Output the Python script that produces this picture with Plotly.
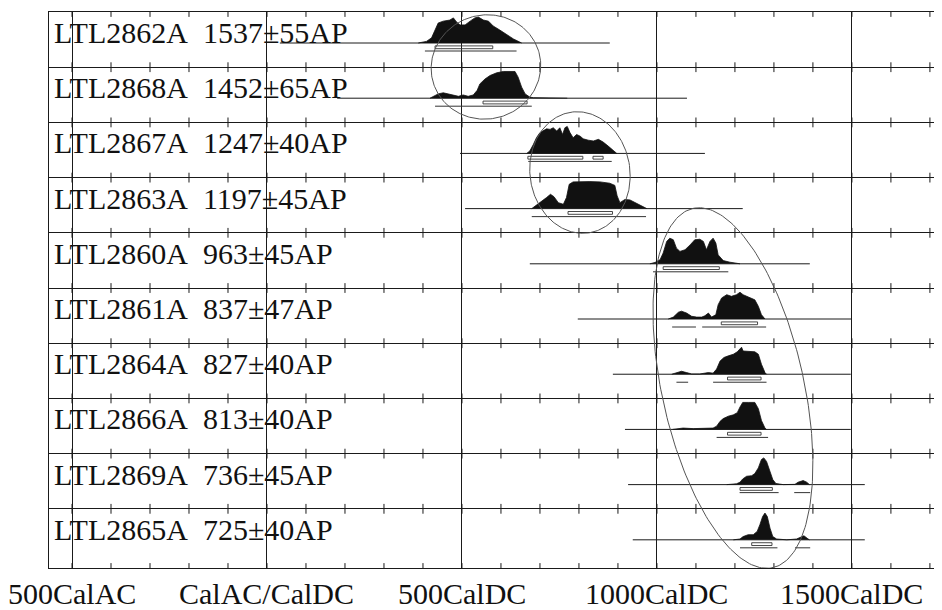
import numpy as np
import plotly.graph_objects as go

# ---------------- data ----------------
lab_ids = ["LTL2862A", "LTL2868A", "LTL2867A", "LTL2863A", "LTL2860A",
           "LTL2861A", "LTL2864A", "LTL2866A", "LTL2869A", "LTL2865A"]
lab_ages = ["1537±55AP", "1452±65AP", "1247±40AP", "1197±45AP", "963±45AP",
            "837±47AP", "827±40AP", "813±40AP", "736±45AP", "725±40AP"]

axis_tick_years = [-500, 0, 500, 1000, 1500]
axis_tick_text = ["500CalAC", "CalAC/CalDC", "500CalDC", "1000CalDC", "1500CalDC"]

# calibrated probability curves (calendar year, relative probability)
yr_2862 = [388, 409, 422, 431, 439, 452, 469, 478, 486, 495, 508, 521, 533, 542, 555, 568, 580, 597, 615, 632, 653]
p_2862 = [0, .06, .19, .48, .74, .81, .85, .93, .78, .67, .67, .81, .93, .96, .85, .81, .63, .48, .30, .15, 0]

yr_2868 = [418, 427, 439, 452, 465, 478, 491, 503, 516, 529, 539, 546, 559, 572, 589, 606, 623, 636, 644, 653, 662, 674, 683, 705, 740, 770]
p_2868 = [0, .07, .16, .20, .16, .12, .07, .12, .07, .12, .29, .53, .71, .84, .94, .99, 1.0, .99, .78, .41, .16, .04, .02, .02, .015, 0]

yr_2867 = [666, 674, 683, 691, 700, 709, 717, 726, 734, 743, 751, 758, 764, 770, 777, 785, 794, 803, 811, 824, 837, 850, 862, 875, 888, 897]
p_2867 = [0, .09, .33, .58, .77, .83, .91, .89, .95, .83, .95, .70, .95, 1.0, .77, .58, .70, .64, .54, .49, .46, .52, .42, .27, .09, 0]

yr_2863 = [679, 691, 704, 717, 727, 736, 747, 760, 768, 775, 785, 803, 828, 854, 879, 892, 898, 905, 918, 931, 944, 956, 974]
p_2863 = [0, .12, .25, .41, .53, .44, .22, .16, .41, .90, .99, 1.0, 1.0, .99, .94, .86, .47, .22, .34, .32, .22, .12, 0]

yr_2860 = [982, 995, 1008, 1016, 1025, 1033, 1042, 1050, 1059, 1072, 1085, 1097, 1110, 1119, 1127, 1136, 1144, 1151, 1157, 1170, 1187, 1204, 1213]
p_2860 = [0, .05, .15, .40, .83, .95, .89, .58, .46, .52, .70, .89, .91, .83, .52, .83, .95, .77, .33, .12, .06, .03, 0]

yr_2861 = [1029, 1042, 1055, 1063, 1076, 1089, 1102, 1115, 1123, 1132, 1140, 1151, 1157, 1166, 1179, 1191, 1204, 1213, 1221, 1238, 1251, 1260, 1268, 1277]
p_2861 = [0, .07, .25, .29, .22, .10, .07, .07, .12, .22, .07, .16, .53, .78, .90, .84, .90, .99, .90, .78, .71, .47, .16, 0]

yr_2864 = [1038, 1050, 1063, 1076, 1089, 1110, 1132, 1144, 1153, 1162, 1172, 1183, 1196, 1206, 1213, 1217, 1221, 1234, 1251, 1260, 1268, 1277, 1281]
p_2864 = [0, .06, .11, .06, .01, .01, .06, .04, .19, .49, .62, .68, .74, .83, .93, 1.0, .86, .84, .83, .74, .37, .06, 0]

yr_2866 = [1040, 1067, 1093, 1119, 1144, 1153, 1162, 1170, 1183, 1196, 1206, 1213, 1220, 1234, 1251, 1260, 1268, 1277, 1281]
p_2866 = [0, .05, .03, .03, .05, .12, .30, .40, .49, .54, .62, .83, 1.0, 1.0, 1.0, .77, .33, .05, 0]

yr_2869 = [1179, 1204, 1213, 1220, 1230, 1243, 1251, 1260, 1268, 1274, 1281, 1290, 1297, 1305, 1324, 1354, 1362, 1375, 1384, 1391]
p_2869 = [0, .03, .09, .21, .31, .33, .41, .62, .93, .99, .86, .49, .19, .04, 0, .01, .09, .15, .09, 0]

yr_2865 = [1196, 1213, 1221, 1234, 1247, 1257, 1264, 1271, 1277, 1283, 1290, 1297, 1307, 1333, 1358, 1367, 1377, 1385, 1391]
p_2865 = [0, .03, .12, .19, .19, .31, .56, .86, .99, .86, .43, .12, .03, 0, .03, .10, .15, .06, 0]

curve_years = [yr_2862, yr_2868, yr_2867, yr_2863, yr_2860, yr_2861, yr_2864, yr_2866, yr_2869, yr_2865]
curve_probs = [p_2862, p_2868, p_2867, p_2863, p_2860, p_2861, p_2864, p_2866, p_2869, p_2865]

# extent of the plotted calibration line of each date
line_start = [33, 180, 495, 508, 674, 797, 887, 918, 926, 938]
line_end = [879, 1077, 1123, 1220, 1392, 1500, 1497, 1497, 1533, 1533]

# 68.2% ranges and 95.4% ranges
range_68 = [[(431, 579)], [(554, 667)], [(669, 810), (836, 862)], [(772, 886)], [(1016, 1160)],
            [(1165, 1258)], [(1181, 1267)], [(1181, 1267)], [(1213, 1296)], [(1243, 1295)]]
range_95 = [[(405, 640)], [(431, 679)], [(670, 884)], [(679, 972)], [(990, 1183)],
            [(1039, 1100), (1116, 1280)], [(1050, 1080), (1144, 1281)], [(1153, 1285)],
            [(1212, 1312), (1352, 1393)], [(1213, 1309), (1354, 1393)]]

# grouping ellipses: centre year, centre row position, semi-axes (px), tilt (deg)
ellipse_cx = [561.5, 802.6, 1194.9]
ellipse_cy = [0.996, 2.908, 6.812]
ellipse_au = [55, 50, 71]
ellipse_av = [52, 61, 184]
ellipse_tilt = [15, 8, 12.5]

# ---------------- geometry / style ----------------
PAGE_OFF = 8                      # default page margin around the figure
W, H = 942 - PAGE_OFF, 610 - PAGE_OFF
ML, MR, MT, MB = 49 - PAGE_OFF, 0, 12 - PAGE_OFF, 42
X0, X1 = -559, 1731
NROWS = 10
Y_MAX = 10.072
plot_w = W - ML - MR
plot_h = H - MT - MB
px_year = plot_w / (X1 - X0)
px_unit = plot_h / Y_MAX

BASE_OFF = 31 / px_unit
PEAK_H = 27 / px_unit
BAR68_OFF = 4.3 / px_unit
BAR68_HALF = 1.4 / px_unit
BAR95_OFF = 8.0 / px_unit

INK = "#1a1a1a"
SERIF = "Liberation Serif, Times New Roman, serif"

fig = go.Figure()

for i in range(NROWS):
    b = i + BASE_OFF
    fig.add_trace(go.Scatter(x=[line_start[i], line_end[i]], y=[b, b], mode="lines",
                             line=dict(color=INK, width=1), hoverinfo="skip", showlegend=False))
    ys = [b - p * PEAK_H for p in curve_probs[i]]
    fig.add_trace(go.Scatter(x=curve_years[i], y=ys, mode="lines", fill="toself",
                             fillcolor="#111111", line=dict(color="#111111", width=0.8),
                             hoverinfo="skip", showlegend=False))
    for (s, e) in range_68[i]:
        yc = b + BAR68_OFF
        fig.add_trace(go.Scatter(x=[s, e, e, s, s],
                                 y=[yc - BAR68_HALF, yc - BAR68_HALF, yc + BAR68_HALF, yc + BAR68_HALF, yc - BAR68_HALF],
                                 mode="lines", line=dict(color="#333333", width=0.9),
                                 hoverinfo="skip", showlegend=False))
    for (s, e) in range_95[i]:
        yc = b + BAR95_OFF
        fig.add_trace(go.Scatter(x=[s, e], y=[yc, yc], mode="lines",
                                 line=dict(color="#333333", width=1),
                                 hoverinfo="skip", showlegend=False))

# minor ticks every 100 years on each row separator
tick_years = list(range(-500, 1800, 100))
sep_levels = list(range(0, NROWS)) + [Y_MAX]
tx, ty = [], []
for lv in sep_levels:
    for yv in tick_years:
        tx.append(yv)
        ty.append(lv)
fig.add_trace(go.Scatter(x=tx, y=ty, mode="markers",
                         marker=dict(symbol="line-ns", size=7, line=dict(color=INK, width=1)),
                         hoverinfo="skip", showlegend=False, cliponaxis=True))

# ellipses
t = np.linspace(0, 2 * np.pi, 241)
for cx, cy, au, av, tl in zip(ellipse_cx, ellipse_cy, ellipse_au, ellipse_av, ellipse_tilt):
    th = np.radians(tl)
    dx = au * np.cos(t) * np.cos(th) + av * np.sin(t) * np.sin(th)
    dy = -au * np.cos(t) * np.sin(th) + av * np.sin(t) * np.cos(th)
    fig.add_trace(go.Scatter(x=cx + dx / px_year, y=cy + dy / px_unit, mode="lines",
                             line=dict(color="#555555", width=1),
                             hoverinfo="skip", showlegend=False))

annotations = []
for i in range(NROWS):
    annotations.append(dict(x=X0 + 3 / px_year, y=i + 20.5 / px_unit, xref="x", yref="y",
                            text=lab_ids[i] + "\u00a0\u00a0" + lab_ages[i],
                            showarrow=False, xanchor="left", yanchor="middle",
                            font=dict(family=SERIF, size=30, color="#111111")))
for yv, txt in zip(axis_tick_years, axis_tick_text):
    annotations.append(dict(x=yv, y=0, xref="x", yref="paper", text=txt,
                            showarrow=False, xanchor="center", yanchor="middle", yshift=-25,
                            font=dict(family=SERIF, size=30, color="#111111")))

fig.update_layout(
    width=W, height=H,
    margin=dict(l=ML, r=MR, t=MT, b=MB, pad=0),
    paper_bgcolor="white", plot_bgcolor="white",
    showlegend=False,
    annotations=annotations,
    xaxis=dict(range=[X0, X1], tickvals=axis_tick_years, showticklabels=False, ticks="",
               showgrid=True, gridcolor=INK, gridwidth=1, zeroline=False,
               showline=True, linecolor=INK, linewidth=1, mirror=True, fixedrange=True),
    yaxis=dict(range=[Y_MAX, 0], tickvals=list(range(1, NROWS)), showticklabels=False, ticks="",
               showgrid=True, gridcolor=INK, gridwidth=1, zeroline=False,
               showline=True, linecolor=INK, linewidth=1, mirror=False, fixedrange=True),
)

fig.write_html("out.html")
